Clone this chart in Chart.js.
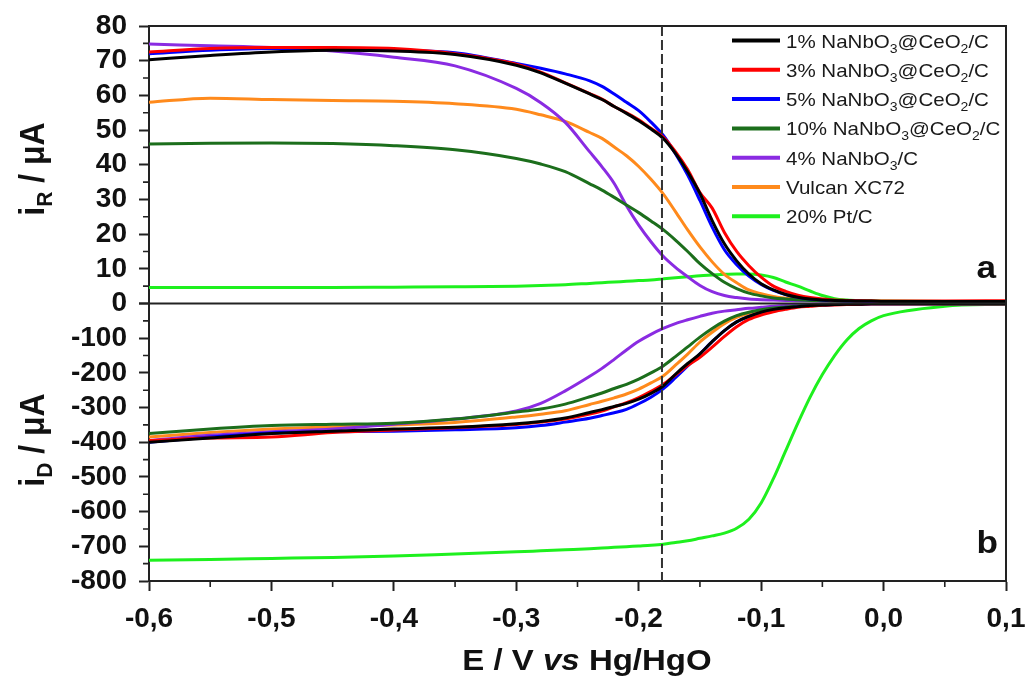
<!DOCTYPE html>
<html>
<head>
<meta charset="utf-8">
<script src="https://cdn.jsdelivr.net/npm/chart.js@4.4.1/dist/chart.umd.min.js"></script>
<style>
  html, body { margin: 0; padding: 0; background: #fff; }
  #wrap { width: 1026px; height: 676px; }
</style>
</head>
<body>
<div id="wrap"><canvas id="chart"></canvas></div>
<script>
// potential E / V vs Hg/HgO
const potential = [-0.6, -0.55, -0.5, -0.45, -0.4, -0.35, -0.3, -0.28, -0.26,
                   -0.24, -0.23, -0.22, -0.21, -0.2, -0.19, -0.18, -0.17, -0.16, -0.15, -0.14, -0.13,
                   -0.12, -0.11, -0.1, -0.09, -0.08, -0.07, -0.06, -0.05, -0.04, -0.03, -0.02, -0.01, 0,
                   0.05, 0.1];

// ring current i_R / uA
const ring1pc = [70.3, 71.5, 72.5, 73.0, 72.8, 71.8, 68.7, 66.5, 63.5,
    60.4, 58.8, 56.8, 54.8, 52.7, 50.3, 47.6, 43.3, 38.0, 31.7, 23.9, 17.2,
    12.3, 8.5, 5.7, 3.9, 2.6, 1.8, 1.3, 1.0, 0.9, 0.8, 0.7, 0.7, 0.6, 0.6, 0.6];
const ring3pc = [72.5, 73.5, 73.8, 73.8, 73.5, 72.0, 69.0, 66.7, 63.6,
    60.5, 58.9, 56.8, 55.0, 53.0, 50.5, 48.0, 43.8, 38.6, 32.0, 27.5, 20.5,
    15.0, 10.9, 7.6, 5.0, 3.5, 2.4, 1.7, 1.3, 1.0, 0.9, 0.8, 0.8, 0.7, 0.7, 0.8];
const ring5pc = [72.0, 73.0, 73.5, 73.5, 73.0, 72.3, 69.2, 67.8, 66.2,
    64.2, 62.6, 60.4, 58.0, 55.6, 52.3, 48.5, 43.2, 37.0, 29.7, 22.0, 15.5,
    11.2, 7.9, 5.5, 3.8, 2.6, 1.8, 1.3, 1.0, 0.9, 0.8, 0.7, 0.6, 0.6, 0.5, 0.5];
const ring10pc = [46.0, 46.2, 46.3, 46.1, 45.5, 44.3, 41.8, 40.2, 38.0,
    34.5, 32.7, 30.6, 28.4, 26.2, 23.8, 21.3, 18.3, 15.0, 11.5, 8.6, 6.1,
    4.3, 3.0, 2.2, 1.6, 1.3, 1.1, 0.9, 0.8, 0.7, 0.7, 0.6, 0.6, 0.6, 0.5, 0.5];
const ringNb = [74.8, 74.3, 73.8, 72.8, 71.0, 68.5, 62.0, 57.9, 52.2,
    43.7, 39.4, 34.6, 28.2, 22.6, 17.8, 13.6, 10.4, 7.7, 5.2, 3.4, 2.3,
    1.7, 1.3, 1.1, 1.0, 0.9, 0.8, 0.8, 0.7, 0.7, 0.6, 0.6, 0.6, 0.6, 0.5, 0.5];
const ringVulcan = [58.0, 59.2, 58.8, 58.5, 58.3, 57.6, 56.0, 54.4, 52.5,
    49.3, 47.6, 45.1, 42.6, 39.5, 35.8, 31.6, 26.5, 21.2, 16.3, 12.0, 8.4,
    6.0, 3.9, 2.8, 2.0, 1.5, 1.2, 1.0, 0.9, 0.8, 0.7, 0.7, 0.6, 0.6, 0.5, 0.5];
const ringPt = [4.6, 4.6, 4.6, 4.6, 4.7, 4.8, 5.0, 5.2, 5.4,
    5.8, 6.0, 6.2, 6.4, 6.6, 6.8, 7.1, 7.4, 7.7, 8.0, 8.2, 8.4,
    8.5, 8.5, 8.2, 7.5, 6.2, 5.0, 3.6, 2.3, 1.4, 1.0, 0.8, 0.7, 0.7, 0.6, 0.6];

// disk current i_D / uA
const disk1pc = [-400, -388, -375, -368, -362, -357, -347, -340, -330,
    -314, -306, -297, -288, -276, -259, -238, -204, -173, -145, -110, -78,
    -53, -37, -25, -17, -12, -9, -6, -4, -3, -2, -2, -1, -1, -1, -1];
const disk3pc = [-395, -388, -385, -372, -365, -358, -349, -342, -333,
    -319, -310, -298, -286, -271, -253, -233, -206, -179, -155, -126, -95,
    -67, -46, -33, -24, -17, -11, -8, -5, -4, -3, -2, -1, -1, -1, -1];
const disk5pc = [-400, -385, -373, -370, -368, -364, -358, -352, -342,
    -331, -323, -315, -305, -289, -270, -246, -214, -180, -145, -110, -78,
    -53, -37, -27, -19, -13, -9, -6, -4, -3, -2, -2, -1, -1, -1, -1];
const disk10pc = [-375, -362, -352, -348, -345, -333, -313, -304, -290,
    -269, -258, -245, -233, -218, -200, -180, -153, -125, -97, -72, -51,
    -35, -25, -18, -13, -10, -7, -4, -3, -2, -2, -1, -1, -1, -1, -1];
const diskNb = [-395, -380, -370, -362, -348, -333, -310, -288, -252,
    -210, -187, -161, -134, -109, -89, -72, -58, -47, -37, -28, -22,
    -18, -14, -11, -8, -6, -5, -3, -3, -2, -2, -1, -1, -1, -1, -1];
const diskVulcan = [-385, -372, -362, -355, -350, -343, -327, -319, -309,
    -291, -282, -272, -261, -247, -229, -209, -178, -146, -111, -83, -58,
    -40, -29, -21, -15, -11, -8, -5, -4, -3, -2, -2, -1, -1, -1, -1];
const diskPt = [-740, -738, -735, -732, -728, -722, -716, -713, -710,
    -707, -705, -703, -701, -699, -697, -694, -689, -684, -677, -670, -662,
    -648, -622, -575, -505, -425, -345, -270, -205, -150, -105, -72, -50, -35, -8, -2];

const labels = ['1% NaNbO_3@CeO_2/C', '3% NaNbO_3@CeO_2/C', '5% NaNbO_3@CeO_2/C',
                '10% NaNbO_3@CeO_2/C', '4% NaNbO_3/C', 'Vulcan XC72', '20% Pt/C'];
const ringSeries = [ring1pc, ring3pc, ring5pc, ring10pc, ringNb, ringVulcan, ringPt];
const diskSeries = [disk1pc, disk3pc, disk5pc, disk10pc, diskNb, diskVulcan, diskPt];
const colors = ['#000000', '#ff0000', '#0000ff', '#1c6e1c', '#8a2be2', '#ff8a1c', '#1ef01e'];

const markerPotential = -0.181;   // dashed vertical line

const FONT = '"Liberation Sans", Arial, Helvetica, sans-serif';
const AXIS = '#222';

function toPoints(arr) {
    return potential.map((e, i) => ({ x: e, y: arr[i] }));
}

const datasets = [];
labels.forEach((lab, i) => {
    const common = {
        borderColor: colors[i],
        backgroundColor: colors[i],
        borderWidth: 3,
        pointRadius: 0,
        fill: false,
        cubicInterpolationMode: 'monotone'
    };
    datasets.push(Object.assign({ label: lab, data: toPoints(ringSeries[i]), yAxisID: 'yR' }, common));
    datasets.push(Object.assign({ label: lab + ' disk', data: toPoints(diskSeries[i]), yAxisID: 'yD' }, common));
});

// text made of runs (sub/superscripts, italics), slightly stretched horizontally
function drawRuns(ctx, runs, x, y, align, sx, sy, rot) {
    let w = 0;
    runs.forEach(r => { ctx.font = r.font; r.w = ctx.measureText(r.t).width; w += r.w; });
    ctx.save();
    ctx.translate(x, y);
    if (rot) ctx.rotate(rot);
    ctx.scale(sx || 1, sy || 1);
    ctx.textBaseline = 'alphabetic';
    ctx.textAlign = 'left';
    let cx = align === 'center' ? -w / 2 : (align === 'right' ? -w : 0);
    runs.forEach(r => { ctx.font = r.font; ctx.fillText(r.t, cx, r.dy || 0); cx += r.w; });
    ctx.restore();
}

function subRuns(text, size, subSize, weight) {
    const parts = text.split(/_(\w)/);
    return parts.map((p, k) => k % 2
        ? { t: p, font: `${weight} ${subSize}px ${FONT}`, dy: Math.round(size * 0.28) }
        : { t: p, font: `${weight} ${size}px ${FONT}` });
}

const decorations = {
    id: 'decorations',
    afterDraw(chart) {
        const { ctx, chartArea: a, scales } = chart;
        ctx.save();
        ctx.strokeStyle = AXIS;
        ctx.lineWidth = 2;
        // frame top / right and panel divider
        ctx.beginPath();
        ctx.moveTo(a.left, a.top); ctx.lineTo(a.right, a.top); ctx.lineTo(a.right, a.bottom);
        const yMid = scales.yR.getPixelForValue(0);
        ctx.moveTo(a.left, yMid); ctx.lineTo(a.right, yMid);
        ctx.stroke();

        // minor ticks halfway between major ticks
        ctx.lineWidth = 1.6;
        ctx.beginPath();
        ['yR', 'yD'].forEach(id => {
            const s = scales[id], t = s.ticks;
            for (let i = 0; i < t.length - 1; i++) {
                const y = s.getPixelForValue((t[i].value + t[i + 1].value) / 2);
                ctx.moveTo(a.left - 6, y); ctx.lineTo(a.left, y);
            }
        });
        const xs = scales.x, xt = xs.ticks;
        for (let i = 0; i < xt.length - 1; i++) {
            const x = xs.getPixelForValue((xt[i].value + xt[i + 1].value) / 2);
            ctx.moveTo(x, a.bottom); ctx.lineTo(x, a.bottom + 6);
        }
        ctx.stroke();

        // dashed marker
        const xm = xs.getPixelForValue(markerPotential);
        ctx.setLineDash([10, 4]);
        ctx.lineWidth = 2;
        ctx.strokeStyle = '#333';
        ctx.beginPath();
        ctx.moveTo(xm, a.top); ctx.lineTo(xm, a.bottom);
        ctx.stroke();
        ctx.setLineDash([]);

        // legend
        ctx.fillStyle = '#1a1a1a';
        labels.forEach((lab, i) => {
            const y = 40.5 + i * 29.3;
            ctx.strokeStyle = colors[i];
            ctx.lineWidth = 4;
            ctx.beginPath(); ctx.moveTo(732, y); ctx.lineTo(780, y); ctx.stroke();
            drawRuns(ctx, subRuns(lab, 19, 13, 'normal'), 786, y + 7, 'left', 1.08);
        });

        // axis titles
        ctx.fillStyle = '#111';
        drawRuns(ctx, [
            { t: 'i', font: `bold 32px ${FONT}` },
            { t: 'R', font: `bold 21px ${FONT}`, dy: 7 },
            { t: ' / μA', font: `bold 32px ${FONT}` }
        ], 44, 169, 'center', 1, 1.08, -Math.PI / 2);
        drawRuns(ctx, [
            { t: 'i', font: `bold 32px ${FONT}` },
            { t: 'D', font: `bold 21px ${FONT}`, dy: 7 },
            { t: ' / μA', font: `bold 32px ${FONT}` }
        ], 44, 440, 'center', 1, 1.08, -Math.PI / 2);
        drawRuns(ctx, [
            { t: 'E / V ', font: `bold 30px ${FONT}` },
            { t: 'vs', font: `italic bold 30px ${FONT}` },
            { t: ' Hg/HgO', font: `bold 30px ${FONT}` }
        ], 587, 670, 'center', 1.1);

        // panel letters
        drawRuns(ctx, [{ t: 'a', font: `bold 32px ${FONT}` }], 996, 278, 'right', 1.1);
        drawRuns(ctx, [{ t: 'b', font: `bold 32px ${FONT}` }], 998, 553, 'right', 1.1);
        ctx.restore();
    }
};

const tickFont = { family: FONT, size: 28, weight: 'bold' };
const gridOpts = { drawOnChartArea: false, drawTicks: true, tickLength: 10, tickWidth: 2, tickColor: AXIS };
const borderOpts = { display: true, width: 2, color: AXIS };

function fixWidth(s) {
    s.width = 149;
    s.paddingTop = 0;
    s.paddingBottom = 0;
}

new Chart(document.getElementById('chart'), {
    type: 'line',
    data: { datasets: datasets },
    options: {
        responsive: true,
        maintainAspectRatio: false,
        animation: false,
        parsing: false,
        layout: { padding: { top: 26, right: 20, bottom: 0, left: 0 } },
        plugins: { legend: { display: false }, tooltip: { enabled: false } },
        scales: {
            x: {
                type: 'linear', min: -0.6, max: 0.1,
                ticks: {
                    stepSize: 0.1, autoSkip: false, maxRotation: 0, padding: 11,
                    font: tickFont, color: '#111',
                    callback: v => (Math.abs(v) < 1e-9 ? 0 : v).toFixed(1).replace('.', ',')
                },
                grid: gridOpts, border: borderOpts,
                afterFit: s => { s.height = 95; s.paddingLeft = 0; s.paddingRight = 0; }
            },
            yD: {
                type: 'linear', position: 'left', stack: 'panels', stackWeight: 1,
                min: -800, max: 0,
                ticks: {
                    stepSize: 100, autoSkip: false, padding: 12, font: tickFont, color: '#111',
                    callback: v => (v === 0 ? '' : v)
                },
                grid: gridOpts, border: borderOpts,
                afterFit: fixWidth
            },
            yR: {
                type: 'linear', position: 'left', stack: 'panels', stackWeight: 1,
                min: 0, max: 80,
                ticks: { stepSize: 10, autoSkip: false, padding: 12, font: tickFont, color: '#111' },
                grid: gridOpts, border: borderOpts,
                afterFit: fixWidth
            }
        }
    },
    plugins: [decorations]
});
</script>
</body>
</html>
